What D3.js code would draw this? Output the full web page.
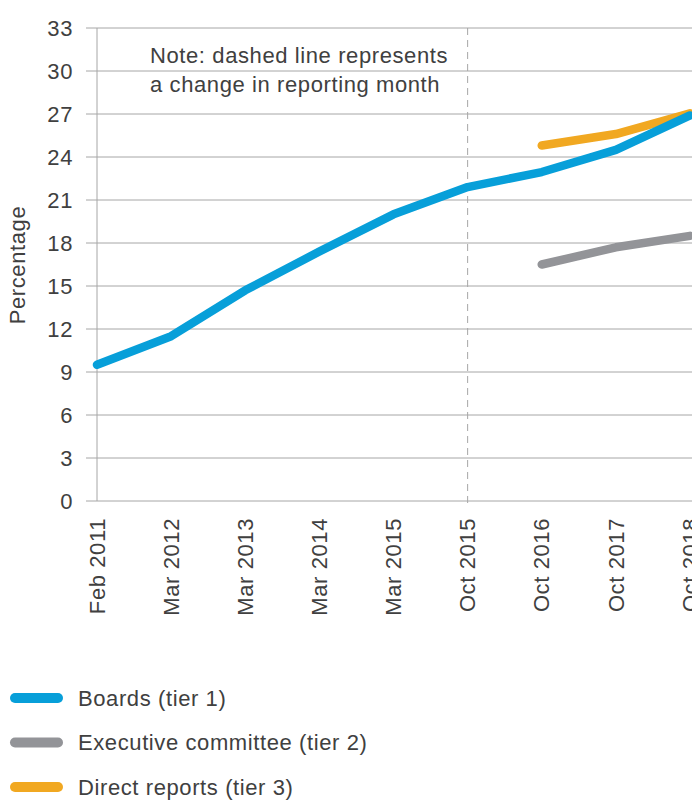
<!DOCTYPE html>
<html>
<head>
<meta charset="utf-8">
<script src="https://cdn.jsdelivr.net/npm/d3@7"></script>
<style>
	body { margin: 0; background: #fff; }
	svg { display: block; font-family: "Liberation Sans", Arial, sans-serif; letter-spacing: 0.6px; }
</style>
</head>
<body>
<div id="chart"></div>
<script>
// data
const periods = ["Feb 2011","Mar 2012","Mar 2013","Mar 2014","Mar 2015","Oct 2015","Oct 2016","Oct 2017","Oct 2018"];
const boards = [9.5, 11.5, 14.7, 17.4, 20.0, 21.9, 22.95, 24.5, 26.9];
const execCommittee = [null, null, null, null, null, null, 16.5, 17.7, 18.5];
const directReports = [null, null, null, null, null, null, 24.8, 25.6, 27.05];
const yTicks = [0,3,6,9,12,15,18,21,24,27,30,33];
const changePeriod = "Oct 2015";

const series = [
	{name:"Boards (tier 1)", values:boards, color:"#079fd9"},
	{name:"Executive committee (tier 2)", values:execCommittee, color:"#939498"},
	{name:"Direct reports (tier 3)", values:directReports, color:"#f1a821"}
];

// set up
const w = 692;
const h = 801;
const textColor = "#404040";

const x = d3.scalePoint()
	.domain(periods)
	.range([97, 690]);

const y = d3.scaleLinear()
	.domain([0,33])
	.range([501, 28]);

const svg = d3.select("#chart")
	.append("svg")
	.attr("width", w)
	.attr("height", h);

// grid lines
svg.append("g")
	.selectAll("line")
	.data(yTicks)
	.join("line")
	.attr("x1", 86)
	.attr("x2", w)
	.attr("y1", d=>y(d))
	.attr("y2", d=>y(d))
	.attr("stroke", "#a6a6a6")
	.attr("stroke-width", 1);

// y tick labels
svg.append("g")
	.selectAll("text")
	.data(yTicks)
	.join("text")
	.attr("x", 73)
	.attr("y", d=>y(d))
	.attr("dy", "0.35em")
	.attr("text-anchor", "end")
	.attr("font-size", 22)
	.attr("fill", textColor)
	.text(d=>d);

// y axis line
svg.append("line")
	.attr("x1", x(periods[0]))
	.attr("x2", x(periods[0]))
	.attr("y1", y(33))
	.attr("y2", y(0))
	.attr("stroke", "#a6a6a6");

// dashed change line
svg.append("line")
	.attr("x1", x(changePeriod))
	.attr("x2", x(changePeriod))
	.attr("y1", y(33))
	.attr("y2", y(0) + 2)
	.attr("stroke", "#a6a6a6")
	.attr("stroke-dasharray", "7,5");

// y title
svg.append("text")
	.attr("transform", "translate(25,265) rotate(-90)")
	.attr("text-anchor", "middle")
	.attr("font-size", 22)
	.attr("fill", textColor)
	.text("Percentage");

// x labels
svg.append("g")
	.selectAll("text")
	.data(periods)
	.join("text")
	.attr("transform", d=>`translate(${x(d)},518) rotate(-90)`)
	.attr("dy", "0.35em")
	.attr("text-anchor", "end")
	.attr("font-size", 22)
	.attr("fill", textColor)
	.text(d=>d);

// note
const note = svg.append("text")
	.attr("font-size", 22)
	.attr("fill", textColor);
note.append("tspan").attr("x", 150).attr("y", 63).text("Note: dashed line represents");
note.append("tspan").attr("x", 150).attr("y", 92).text("a change in reporting month");

// lines (blue drawn last, on top)
const line = d3.line()
	.defined(d=>d.v != null)
	.x(d=>x(d.p))
	.y(d=>y(d.v));

svg.append("g")
	.selectAll("path")
	.data([series[1], series[2], series[0]])
	.join("path")
	.attr("d", s=>line(s.values.map((v,i)=>({p:periods[i], v}))))
	.attr("fill", "none")
	.attr("stroke", s=>s.color)
	.attr("stroke-width", 8.5)
	.attr("stroke-linecap", "round")
	.attr("stroke-linejoin", "round");

// legend
const legend = svg.append("g")
	.selectAll("g")
	.data(series)
	.join("g")
	.attr("transform", (d,i)=>`translate(0,${698 + i*44.5})`);

legend.append("line")
	.attr("x1", 15)
	.attr("x2", 58)
	.attr("stroke", d=>d.color)
	.attr("stroke-width", 10)
	.attr("stroke-linecap", "round");

legend.append("text")
	.attr("x", 78)
	.attr("dy", "0.35em")
	.attr("font-size", 22)
	.attr("fill", textColor)
	.text(d=>d.name);
</script>
</body>
</html>
